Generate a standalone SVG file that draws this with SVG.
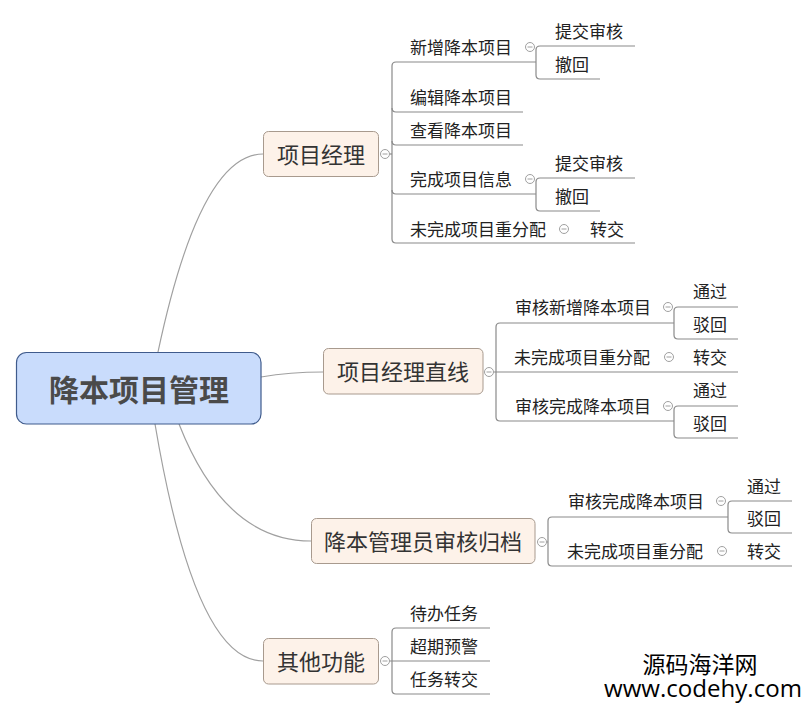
<svg xmlns="http://www.w3.org/2000/svg" width="808" height="710" viewBox="0 0 808 710">
<style>
text{font-family:"Noto Sans CJK SC","Liberation Sans",sans-serif;dominant-baseline:central;fill:#222}
.t{font-size:17px}
.m{font-size:22px;fill:#333;text-anchor:middle}
.r{font-size:30px;font-weight:bold;fill:#4a4a4a;text-anchor:middle}
.box{fill:#fdf2e9;stroke:#a89a8e;stroke-width:1}
.curve{fill:none;stroke:#a0a0a0;stroke-width:1.2}
.br{fill:none;stroke:#8a8a8a;stroke-width:1.2}
.c{fill:#fff;stroke:#a0a0a0;stroke-width:1}
.cm{stroke:#a0a0a0;stroke-width:1}
</style>
<defs>
<g id="col"><circle class="c" cx="0" cy="0" r="4.5"/><line class="cm" x1="-2.5" y1="0" x2="2.5" y2="0"/></g>
</defs>
<rect width="808" height="710" fill="#fff"/>
<g id="connectors">
<path class="curve" d="M158,352 Q200,154 263,154"/>
<path class="curve" d="M261,377 Q290,372 323,372"/>
<path class="curve" d="M179,424 Q225,541 311,541"/>
<path class="curve" d="M155,424 Q195,661 263,661"/>
<path class="br" d="M536,62 H396 Q392,62 392,66 V239 Q392,243 396,243 H635"/>
<path class="br" d="M392,108 Q392,112 396,112 H523"/>
<path class="br" d="M392,141 Q392,145 396,145 H523"/>
<path class="br" d="M392,190 Q392,194 396,194 H536"/>
<path class="br" d="M389.5,154 H392"/>
<path class="br" d="M635,46 H540 Q536,46 536,50 V75 Q536,79 540,79 H600"/>
<path class="br" d="M635,178 H540 Q536,178 536,182 V207 Q536,211 540,211 H600"/>
<path class="br" d="M674,323 H500 Q496,323 496,327 V417 Q496,421 500,421 H674"/>
<path class="br" d="M493.5,372 H738"/>
<path class="br" d="M738,307 H678 Q674,307 674,311 V335 Q674,339 678,339 H738"/>
<path class="br" d="M738,406 H678 Q674,406 674,410 V434 Q674,438 678,438 H738"/>
<path class="br" d="M728,517 H552 Q548,517 548,521 V562 Q548,566 552,566 H792"/>
<path class="br" d="M546.5,542 H548"/>
<path class="br" d="M792,501 H732 Q728,501 728,505 V529 Q728,533 732,533 H792"/>
<path class="br" d="M490,628 H396 Q392,628 392,632 V690 Q392,694 396,694 H490"/>
<path class="br" d="M389.5,661 H490"/>
</g>
<g id="root">
<rect x="16.5" y="352.5" width="244.5" height="71.5" rx="10" fill="#c9dcfc" stroke="#3f5b8c" stroke-width="1.2"/>
<text class="r" x="139" y="388">降本项目管理</text>
</g>
<g id="n-pm">
<rect class="box" x="263.5" y="131.5" width="115" height="45" rx="5"/>
<text class="m" x="321" y="152.5">项目经理</text>
<use href="#col" x="385" y="154"/>
</g>
<g id="n-pm-line">
<rect class="box" x="323.5" y="348.5" width="159.5" height="45.5" rx="5"/>
<text class="m" x="403" y="369.5">项目经理直线</text>
<use href="#col" x="489" y="372"/>
</g>
<g id="n-admin">
<rect class="box" x="311.5" y="518.5" width="223.5" height="45" rx="5"/>
<text class="m" x="423" y="539.5">降本管理员审核归档</text>
<use href="#col" x="542" y="542"/>
</g>
<g id="n-other">
<rect class="box" x="263.5" y="638.5" width="115" height="45.5" rx="5"/>
<text class="m" x="321" y="659.5">其他功能</text>
<use href="#col" x="385" y="661"/>
</g>
<g id="pm-children">
<text class="t" x="410" y="46">新增降本项目</text>
<use href="#col" x="530" y="47"/>
<text class="t" x="555" y="30.5">提交审核</text>
<text class="t" x="555" y="63">撤回</text>
<text class="t" x="410" y="96">编辑降本项目</text>
<text class="t" x="410" y="129">查看降本项目</text>
<text class="t" x="410" y="178">完成项目信息</text>
<use href="#col" x="530" y="179"/>
<text class="t" x="555" y="162">提交审核</text>
<text class="t" x="555" y="195">撤回</text>
<text class="t" x="410" y="228">未完成项目重分配</text>
<use href="#col" x="564" y="229"/>
<text class="t" x="590" y="228">转交</text>
</g>
<g id="pml-children">
<text class="t" x="515" y="306.5">审核新增降本项目</text>
<use href="#col" x="668" y="307"/>
<text class="t" x="693" y="290.5">通过</text>
<text class="t" x="693" y="323">驳回</text>
<text class="t" x="514" y="356">未完成项目重分配</text>
<use href="#col" x="669" y="357"/>
<text class="t" x="693" y="356">转交</text>
<text class="t" x="515" y="405">审核完成降本项目</text>
<use href="#col" x="668" y="406"/>
<text class="t" x="693" y="389">通过</text>
<text class="t" x="693" y="422">驳回</text>
</g>
<g id="admin-children">
<text class="t" x="568" y="500.5">审核完成降本项目</text>
<use href="#col" x="721" y="501"/>
<text class="t" x="747" y="485">通过</text>
<text class="t" x="747" y="517">驳回</text>
<text class="t" x="567" y="550">未完成项目重分配</text>
<use href="#col" x="722" y="551"/>
<text class="t" x="747" y="550">转交</text>
</g>
<g id="other-children">
<text class="t" x="410" y="612">待办任务</text>
<text class="t" x="410" y="645.5">超期预警</text>
<text class="t" x="410" y="678.5">任务转交</text>
</g>
<g id="watermark">
<text x="700" y="663" style="font-size:23px;fill:#000;text-anchor:middle">源码海洋网</text>
<text x="604" y="697" textLength="198" lengthAdjust="spacingAndGlyphs" style="font-family:'Open Sans','Liberation Sans',sans-serif;font-size:23px;fill:#000;dominant-baseline:alphabetic">www.codehy.com</text>
</g>
</svg>
